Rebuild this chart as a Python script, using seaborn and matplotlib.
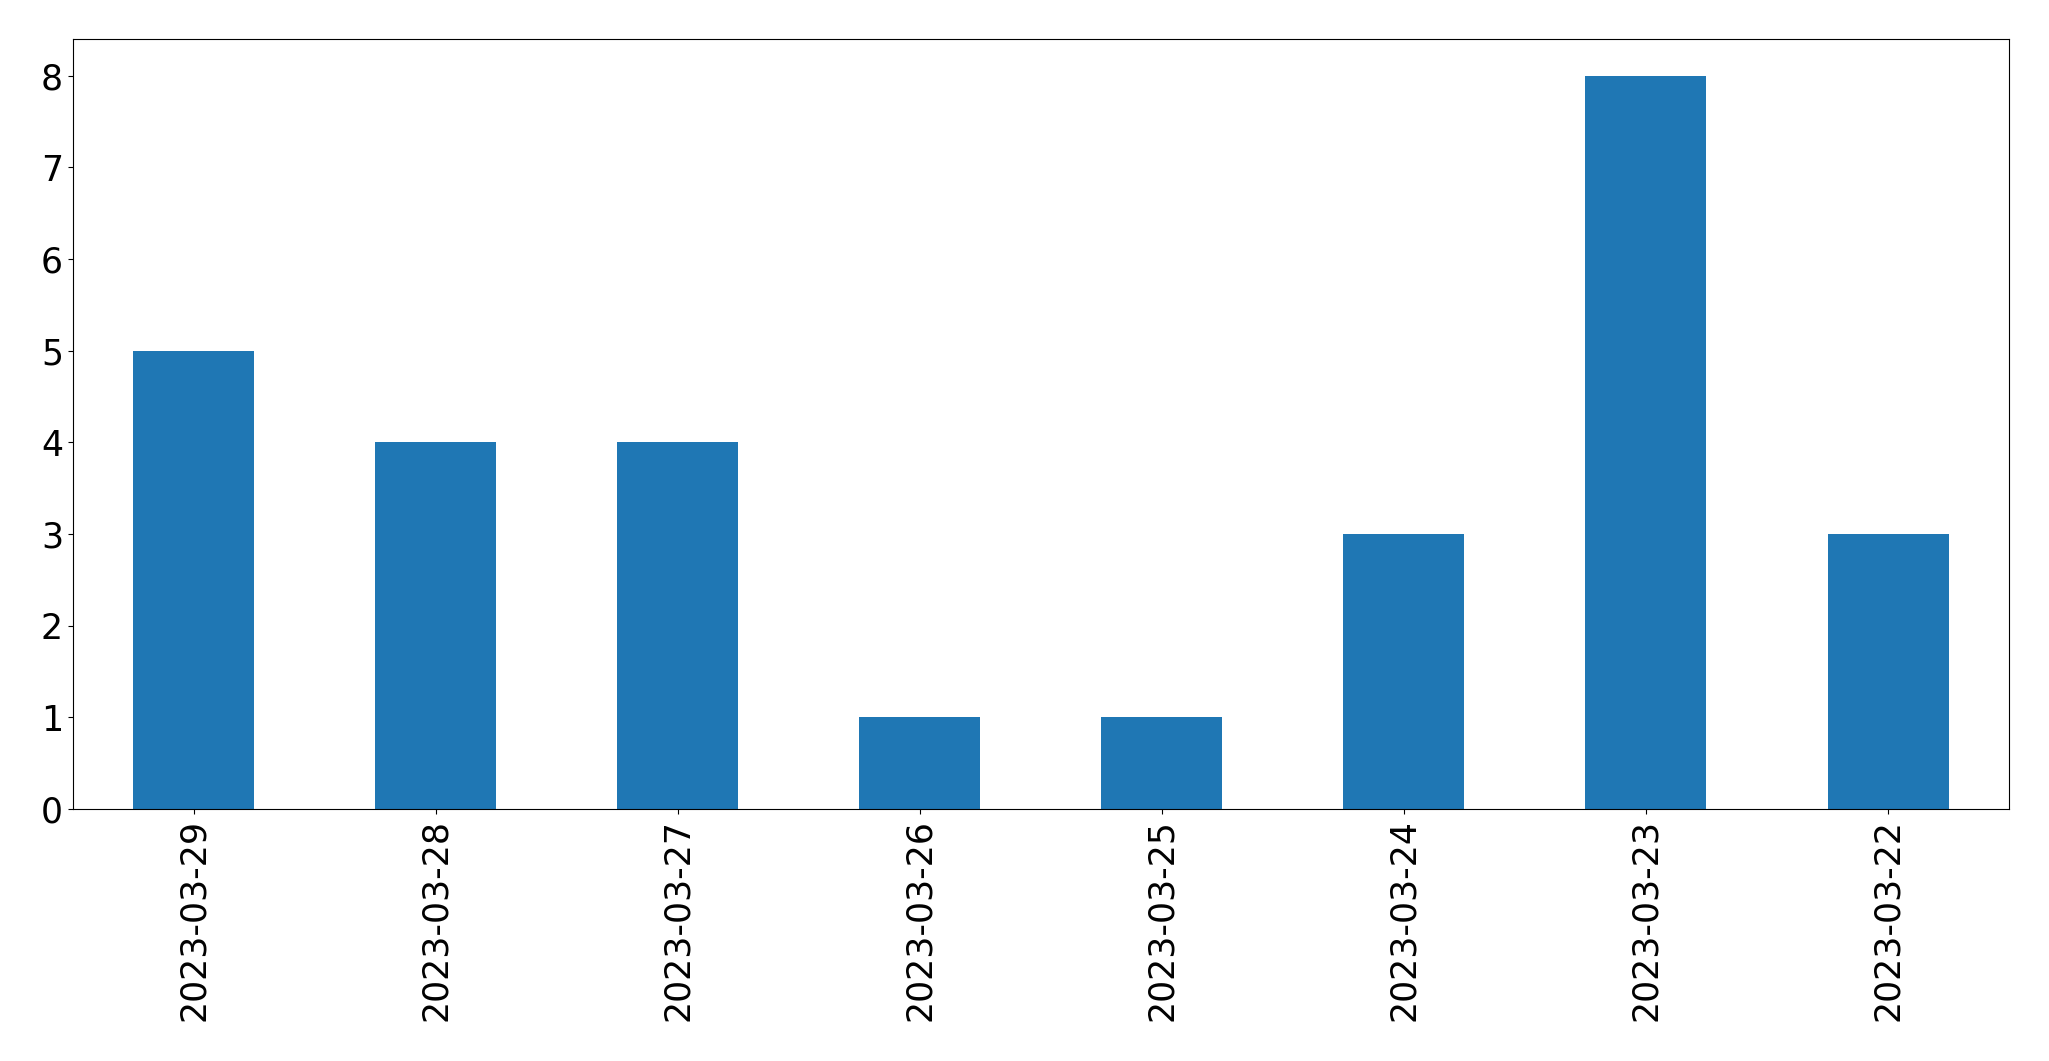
import matplotlib
matplotlib.use("Agg")
import matplotlib.pyplot as plt
import seaborn as sns
import pandas as pd

dates = ["2023-03-29", "2023-03-28", "2023-03-27", "2023-03-26",
         "2023-03-25", "2023-03-24", "2023-03-23", "2023-03-22"]
counts = [5, 4, 4, 1, 1, 3, 8, 3]

df = pd.DataFrame({"date": dates, "count": counts})

fig = plt.figure(figsize=(20.49, 10.61), dpi=100)
ax = fig.add_axes([0.0355, 0.2375, 0.945, 0.7257])
sns.barplot(data=df, x="date", y="count", order=dates, color="#1f77b4",
            saturation=1, width=0.5, ax=ax)
ax.set_xlim(-0.5, len(dates) - 0.5)
ax.set_ylim(0, 8.4)
ax.set_xlabel("")
ax.set_ylabel("")
ax.tick_params(axis="both", labelsize=25)
ax.tick_params(axis="x", labelrotation=90)
for s in ax.spines.values():
    s.set_visible(True)
    s.set_color("black")
fig.savefig("out.png", dpi=100)
